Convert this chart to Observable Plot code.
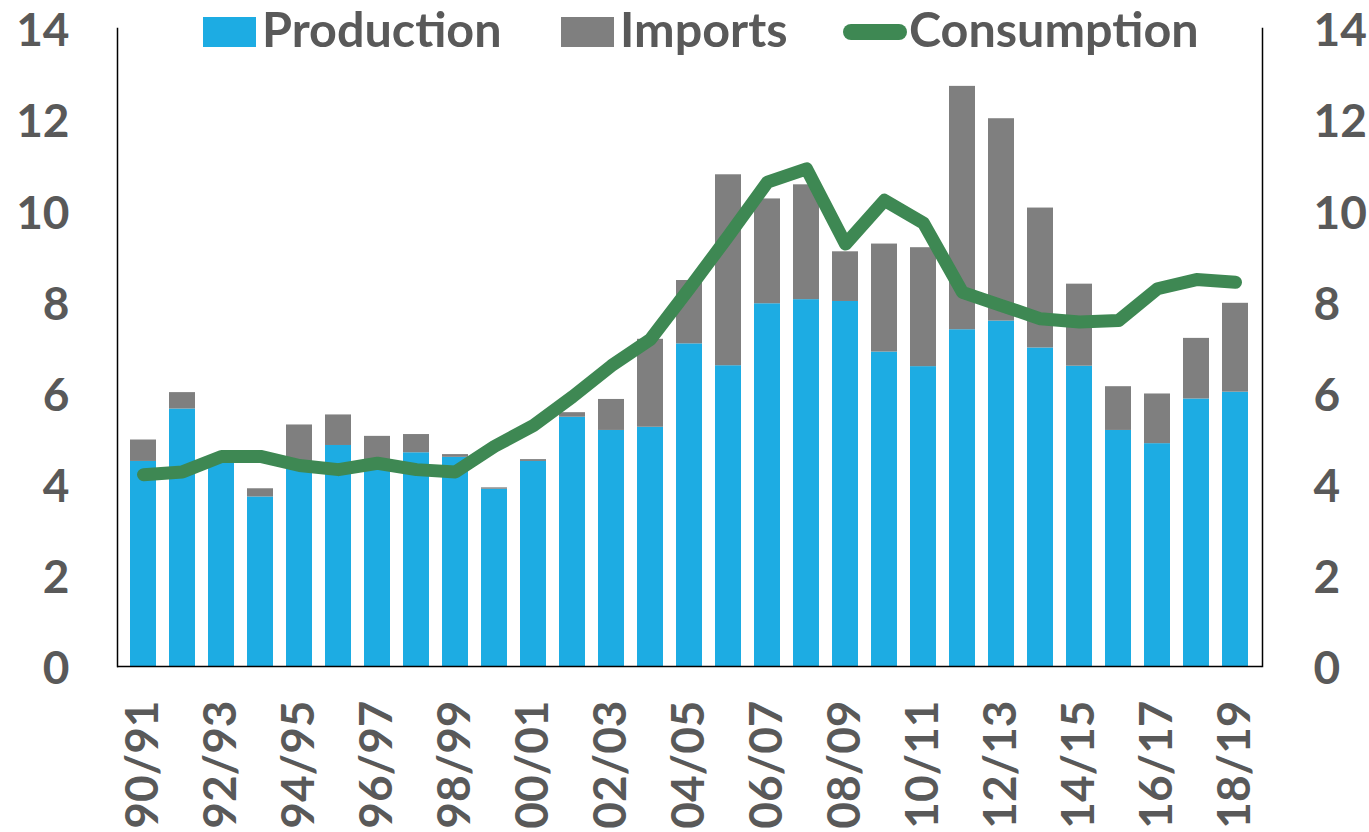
<!DOCTYPE html>
<html>
<head>
<meta charset="utf-8">
<script src="https://cdn.jsdelivr.net/npm/d3@7"></script>
<script src="https://cdn.jsdelivr.net/npm/@observablehq/plot@0.6"></script>
<style>
  html, body { margin: 0; padding: 0; background: white; }
  #wrap { position: relative; width: 1369px; height: 832px; overflow: hidden; }
  #legend { position: absolute; left: 0; top: 0; width: 1369px; height: 70px;
            font-family: Lato, sans-serif; font-weight: 700; font-size: 48.5px; color: #595959; }
  .sw { position: absolute; top: 17px; width: 53px; height: 30px; }
  .ln { position: absolute; top: 24px; height: 16px; width: 64px; border-radius: 8px; }
  .tx { position: absolute; top: 4px; line-height: 48px; white-space: nowrap; }
</style>
</head>
<body>
<div id="wrap">
  <div id="chart"></div>
  <div id="legend"></div>
</div>
<script>
const years = ["90/91","91/92","92/93","93/94","94/95","95/96","96/97","97/98","98/99","99/00",
  "00/01","01/02","02/03","03/04","04/05","05/06","06/07","07/08","08/09","09/10",
  "10/11","11/12","12/13","13/14","14/15","15/16","16/17","17/18","18/19"];
const production = [4.50, 5.65, 4.52, 3.72, 4.45, 4.85, 4.45, 4.69, 4.59, 3.89,
  4.50, 5.47, 5.18, 5.25, 7.08, 6.60, 7.96, 8.05, 8.01, 6.90,
  6.58, 7.39, 7.58, 6.99, 6.59, 5.18, 4.89, 5.87, 6.02];
const imports = [0.47, 0.36, 0.00, 0.18, 0.85, 0.67, 0.60, 0.40, 0.06, 0.03,
  0.04, 0.10, 0.68, 1.93, 1.39, 4.19, 2.30, 2.52, 1.09, 2.37,
  2.61, 5.34, 4.44, 3.07, 1.80, 0.96, 1.09, 1.33, 1.95];
const consumption = [4.21, 4.27, 4.61, 4.61, 4.41, 4.32, 4.46, 4.32, 4.27, 4.83,
  5.29, 5.92, 6.60, 7.18, 8.30, 9.45, 10.63, 10.92, 9.27, 10.23,
  9.73, 8.21, 7.92, 7.63, 7.56, 7.59, 8.29, 8.49, 8.43];
const seriesNames = ["Production", "Imports", "Consumption"];
const seriesColors = ["#1DACE3", "#7F7F7F", "#3E8853"];
const yTicks = [0, 2, 4, 6, 8, 10, 12, 14];
const xTicks = years.filter((d, i) => i % 2 === 0);

const stacked = years.flatMap((year, i) => [
  {year, series: seriesNames[0], value: production[i]},
  {year, series: seriesNames[1], value: imports[i]}
]);
const consRows = years.map((year, i) => ({year, value: consumption[i]}));

const textColor = "#595959";
const chart = Plot.plot({
  width: 1369,
  height: 832,
  marginLeft: 117,
  marginRight: 107,
  marginTop: 28,
  marginBottom: 166,
  style: {fontFamily: "Lato, sans-serif", fontWeight: 700, background: "white"},
  x: {domain: years, padding: 0.33},
  y: {domain: [0, 14]},
  color: {domain: seriesNames.slice(0, 2), range: seriesColors.slice(0, 2)},
  marks: [
    Plot.barY(stacked, {x: "year", y: "value", fill: "series"}),
    Plot.line(consRows, {x: "year", y: "value", stroke: seriesColors[2], strokeWidth: 13,
      strokeLinecap: "round", strokeLinejoin: "round"}),
    Plot.ruleY([0], {stroke: "black", strokeWidth: 1.5}),
    Plot.frame({anchor: "left", stroke: "black", strokeWidth: 1.5}),
    Plot.frame({anchor: "right", stroke: "black", strokeWidth: 1.5}),
    Plot.axisY({anchor: "left", ticks: yTicks, tickSize: 0, tickPadding: 48, fontSize: 46, dy: 3,
      color: textColor, label: null}),
    Plot.axisY({anchor: "right", ticks: yTicks, tickSize: 0, tickPadding: 51, fontSize: 46, dy: 3,
      color: textColor, label: null}),
    Plot.axisX({ticks: xTicks, tickSize: 0, tickPadding: 34, tickRotate: -90, fontSize: 46,
      color: textColor, label: null})
  ]
});
document.getElementById("chart").appendChild(chart);

// legend
const legend = document.getElementById("legend");
const legendLayout = [
  {swatch: 203, text: 262, kind: "sw"},
  {swatch: 561, text: 620, kind: "sw"},
  {swatch: 843, text: 909, kind: "ln"}
];
seriesNames.forEach((name, i) => {
  const s = document.createElement("div");
  s.className = legendLayout[i].kind;
  s.style.left = legendLayout[i].swatch + "px";
  s.style.background = seriesColors[i];
  legend.appendChild(s);
  const t = document.createElement("div");
  t.className = "tx";
  t.style.left = legendLayout[i].text + "px";
  t.textContent = name;
  legend.appendChild(t);
});
</script>
</body>
</html>
